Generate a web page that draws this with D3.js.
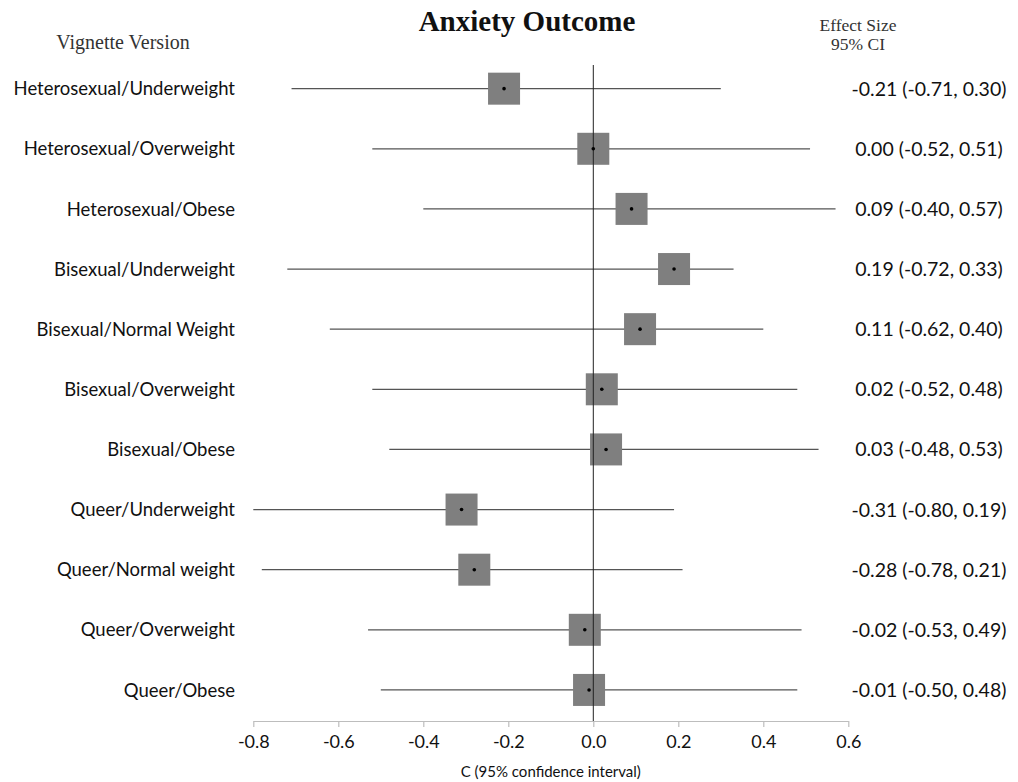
<!DOCTYPE html>
<html>
<head>
<meta charset="utf-8">
<script src="https://cdn.jsdelivr.net/npm/d3@7"></script>
<style>
  html, body { margin: 0; padding: 0; background: #fff; }
  svg { display: block; }
</style>
</head>
<body>
<svg id="chart" width="1018" height="782"></svg>
<script>
// Vignette versions, top to bottom
const versions = [
  "Heterosexual/Underweight",
  "Heterosexual/Overweight",
  "Heterosexual/Obese",
  "Bisexual/Underweight",
  "Bisexual/Normal Weight",
  "Bisexual/Overweight",
  "Bisexual/Obese",
  "Queer/Underweight",
  "Queer/Normal weight",
  "Queer/Overweight",
  "Queer/Obese"
];
// Effect size estimates and 95% confidence bounds
const effect = [-0.21, 0.00, 0.09, 0.19, 0.11, 0.02, 0.03, -0.31, -0.28, -0.02, -0.01];
const lower  = [-0.71, -0.52, -0.40, -0.72, -0.62, -0.52, -0.48, -0.80, -0.78, -0.53, -0.50];
const upper  = [0.30, 0.51, 0.57, 0.33, 0.40, 0.48, 0.53, 0.19, 0.21, 0.49, 0.48];
const xTicks = [-0.8, -0.6, -0.4, -0.2, 0.0, 0.2, 0.4, 0.6];

const rows = versions.map((v, i) => ({ v, e: effect[i], lo: lower[i], hi: upper[i] }));

const svg = d3.select("#chart");
const sans = "Lato, 'Open Sans', sans-serif";
const serif = "'Liberation Serif', 'DejaVu Serif', serif";

// plain hyphen-minus for negative numbers
const fmt = p => { const f = d3.format(p); return v => f(v).replace("\u2212", "-"); };
const f1 = fmt(".1f"), f2 = fmt(".2f");

const x = d3.scaleLinear().domain([-0.8, 0.6]).range([253.3, 848.3]);
const y = d3.scaleBand().domain(versions).range([58.6, 720]).padding(0);
const yc = d => y(d) + y.bandwidth() / 2;
const boxSize = 32;

// Headings
svg.append("text").attr("x", 527).attr("y", 31)
  .attr("text-anchor", "middle").attr("font-family", serif)
  .attr("font-weight", "bold").attr("font-size", 29).attr("fill", "#111")
  .text("Anxiety Outcome");
svg.append("text").attr("x", 123).attr("y", 49)
  .attr("text-anchor", "middle").attr("font-family", serif)
  .attr("font-size", 20).attr("fill", "#333")
  .text("Vignette Version");
svg.append("text").attr("x", 858).attr("y", 31)
  .attr("text-anchor", "middle").attr("font-family", serif)
  .attr("font-size", 17.5).attr("fill", "#333")
  .text("Effect Size");
svg.append("text").attr("x", 858).attr("y", 50)
  .attr("text-anchor", "middle").attr("font-family", serif)
  .attr("font-size", 17.5).attr("fill", "#333")
  .text("95% CI");

// X axis with downward ticks
const axis = svg.append("g")
  .attr("transform", `translate(0,721)`)
  .call(d3.axisBottom(x).tickValues(xTicks).tickFormat(f1).tickSize(6).tickSizeOuter(0));
axis.select(".domain").attr("stroke", "#bdbdbd").attr("stroke-width", 1.2);
axis.selectAll(".tick line").attr("stroke", "#bdbdbd").attr("stroke-width", 1.2);
axis.selectAll(".tick text")
  .attr("font-family", sans).attr("font-size", 18).attr("fill", "#111")
  .attr("dy", null).attr("y", 26.5);

svg.append("text").attr("x", (x(-0.8) + x(0.6)) / 2).attr("y", 777)
  .attr("text-anchor", "middle").attr("font-family", sans)
  .attr("font-size", 15).attr("fill", "#111")
  .text("C (95% confidence interval)");

const g = svg.append("g");

// Confidence interval lines
g.selectAll("line.ci").data(rows).join("line")
  .attr("class", "ci")
  .attr("x1", d => x(d.lo)).attr("x2", d => x(d.hi))
  .attr("y1", d => yc(d.v)).attr("y2", d => yc(d.v))
  .attr("stroke", "#555").attr("stroke-width", 1.3);

// Point-estimate squares
g.selectAll("rect.box").data(rows).join("rect")
  .attr("class", "box")
  .attr("x", d => x(d.e) - boxSize / 2).attr("y", d => yc(d.v) - boxSize / 2)
  .attr("width", boxSize).attr("height", boxSize)
  .attr("fill", "#7f7f7f");

// Null-effect reference line, drawn over the squares
g.append("line")
  .attr("x1", x(0)).attr("x2", x(0))
  .attr("y1", 65).attr("y2", 721)
  .attr("stroke", "#222").attr("stroke-width", 1);

// Centre dots
g.selectAll("circle.pt").data(rows).join("circle")
  .attr("class", "pt")
  .attr("cx", d => x(d.e)).attr("cy", d => yc(d.v)).attr("r", 1.8)
  .attr("fill", "#000");

// Row labels
svg.selectAll("text.lab").data(rows).join("text")
  .attr("class", "lab")
  .attr("x", 235).attr("y", d => yc(d.v)).attr("dy", "0.36em")
  .attr("text-anchor", "end").attr("font-family", sans)
  .attr("font-size", 18.5).attr("fill", "#111")
  .text(d => d.v);

// Effect size text column
svg.selectAll("text.es").data(rows).join("text")
  .attr("class", "es")
  .attr("x", 929).attr("y", d => yc(d.v)).attr("dy", "0.36em")
  .attr("text-anchor", "middle").attr("font-family", sans)
  .attr("font-size", 19.5).attr("fill", "#111")
  .text(d => `${f2(d.e)} (${f2(d.lo)}, ${f2(d.hi)})`);
</script>
</body>
</html>
